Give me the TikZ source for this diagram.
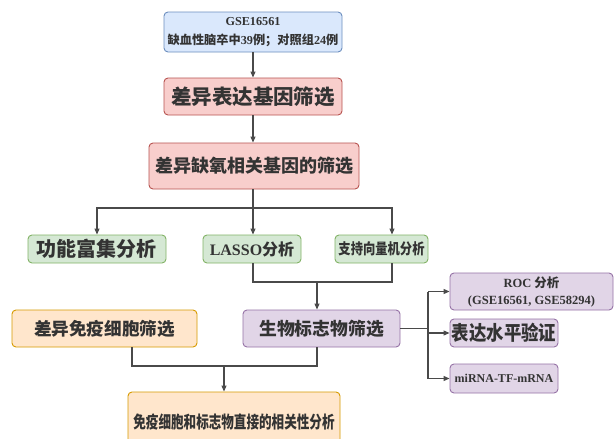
\documentclass[tikz,border=0pt]{standalone}
\usepackage{fontspec}
\setmainfont{Liberation Serif}
\newfontfamily\cjk{Noto Sans CJK SC}
\usetikzlibrary{arrows.meta}
\definecolor{bluef}{HTML}{DAE8FC}\definecolor{blued}{HTML}{6C8EBF}
\definecolor{redf}{HTML}{F8CECC}\definecolor{redd}{HTML}{B85450}
\definecolor{greenf}{HTML}{D5E8D4}\definecolor{greend}{HTML}{82B366}
\definecolor{orangef}{HTML}{FFE6CC}\definecolor{oranged}{HTML}{D79B00}
\definecolor{purplef}{HTML}{E1D5E7}\definecolor{purpled}{HTML}{9673A6}
\definecolor{txt}{HTML}{333333}
\definecolor{lnc}{HTML}{4A4A4A}
\begin{document}
\begin{tikzpicture}[x=1pt,y=-1pt,
  bx/.style={draw, rounded corners=4pt, line width=0.9pt, inner sep=0pt, align=center, text=txt},
  bluebox/.style={bx, fill=bluef, draw=blued},
  redbox/.style={bx, fill=redf, draw=redd},
  greenbox/.style={bx, fill=greenf, draw=greend},
  orangebox/.style={bx, fill=orangef, draw=oranged},
  purplebox/.style={bx, fill=purplef, draw=purpled},
  ln/.style={draw=lnc, line width=1.1pt},
  arr/.style={ln, -{Triangle[length=6pt,width=5pt]}}]
\useasboundingbox (0,0) rectangle (614,439);
\fill[white] (0,0) rectangle (614,439);

\node[bluebox, minimum width=178pt, minimum height=40pt, font={\fontsize{12.2}{19}\selectfont\bfseries}] (gse) at (253,32)
  {GSE16561\\ {\cjk 缺血性脑卒中}39{\cjk 例；对照组}24{\cjk 例}};
\node[redbox, minimum width=178pt, minimum height=37pt, font={\fontsize{20.5}{24}\selectfont\cjk\bfseries}] (dege) at (253,96.5)
  {差异表达基因筛选};
\node[redbox, minimum width=210pt, minimum height=46pt, font={\fontsize{18}{22}\selectfont\cjk\bfseries}] (hyp) at (254,166)
  {差异缺氧相关基因的筛选};

\node[greenbox, minimum width=138pt, minimum height=28pt, font={\fontsize{20}{24}\selectfont\cjk\bfseries}] (func) at (97,249)
  {功能富集分析};
\node[greenbox, minimum width=98pt, minimum height=28pt, font={\fontsize{16}{20}\selectfont\bfseries}] (lasso) at (252,249)
  {LASSO{\cjk 分析}};
\node[greenbox, minimum width=93pt, minimum height=28pt, font={\fontsize{15}{18}\selectfont\cjk\bfseries}] (svm) at (381.5,249)
  {\scalebox{0.82}[1]{支持向量机分析}};

\node[orangebox, minimum width=185pt, minimum height=37pt, font={\fontsize{17.6}{22}\selectfont\cjk\bfseries}] (imm) at (104.5,328.5)
  {差异免疫细胞筛选};
\node[purplebox, minimum width=157pt, minimum height=37pt, font={\fontsize{17.8}{22}\selectfont\cjk\bfseries}] (bio) at (321.5,328.5)
  {生物标志物筛选};
\node[orangebox, minimum width=212pt, minimum height=60pt, font={\fontsize{17}{20}\selectfont\cjk\bfseries}] (fin) at (234,422)
  {\scalebox{0.74}[1]{免疫细胞和标志物直接的相关性分析}};

\node[purplebox, minimum width=163pt, minimum height=37pt, font={\fontsize{12.5}{17}\selectfont\bfseries}] (roc) at (531.5,291.5)
  {ROC {\cjk 分析}\\ (GSE16561, GSE58294)};
\node[purplebox, minimum width=108pt, minimum height=28pt, font={\fontsize{20}{24}\selectfont\cjk\bfseries}] (expr) at (504,333)
  {\scalebox{0.87}[1]{表达水平验证}};
\node[purplebox, minimum width=108pt, minimum height=29pt, font={\fontsize{12}{15}\selectfont\bfseries}] (mir) at (504,378.5)
  {miRNA-TF-mRNA};

% top chain
\draw[arr] (gse.south) -- (gse.south |- dege.north);
\draw[arr] (dege.south) -- (dege.south |- hyp.north);

% first branch
\coordinate (j1) at (253,208);
\draw[ln] (hyp.south -| j1) -- (j1);
\draw[arr] (j1) -| (func.north);
\draw[arr] (j1) -- (j1 |- lasso.north);
\draw[arr] (j1) -| ([xshift=10.5pt]svm.north);

% join lasso + svm
\coordinate (j2) at (317,282);
\draw[ln] (lasso.south -| j1) |- ([xshift=10.5pt]svm.south |- j2) -- ([xshift=10.5pt]svm.south);
\draw[arr] (j2) -- (j2 |- bio.north);

% join imm + bio
\coordinate (j3) at (224,366);
\draw[ln] ([xshift=27.5pt]imm.south) |- ([xshift=-4.5pt]bio.south |- j3) -- ([xshift=-4.5pt]bio.south);
\draw[arr] (j3) -- (j3 |- fin.north);

% right branch
\coordinate (j4) at (428,329);
\draw[ln] (bio.east) -- (bio.east -| j4);
\draw[ln] (j4 |- roc.west) -- (j4 |- mir.west);
\draw[arr] (j4 |- roc.west) -- (roc.west);
\draw[arr] (j4 |- expr.west) -- (expr.west);
\draw[arr] (j4 |- mir.west) -- (mir.west);
\end{tikzpicture}
\end{document}
